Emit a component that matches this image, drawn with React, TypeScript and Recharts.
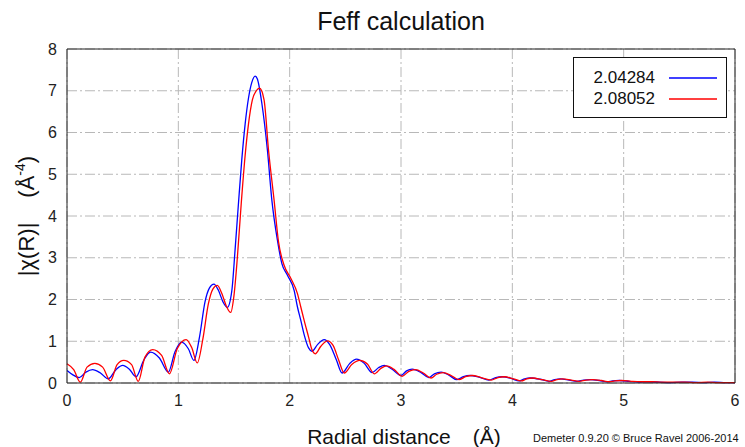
import React from 'react';
import { CartesianGrid, Label, Legend, Line, LineChart, XAxis, YAxis } from 'recharts';

const FONT = '"Liberation Sans", Arial, Helvetica, sans-serif';

const xTicks = [0, 1, 2, 3, 4, 5, 6];
const yTicks = [0, 1, 2, 3, 4, 5, 6, 7, 8];

const seriesNames = ['2.04284', '2.08052'];
const seriesColors = ['#0000ff', '#ff0000'];

// |chi(R)| for the first path: [R, magnitude]
const path1: [number, number][] = [
  [0.0, 0.3], [0.05, 0.2], [0.11, 0.13], [0.17, 0.26], [0.23, 0.32], [0.3, 0.24], [0.37, 0.1],
  [0.44, 0.32], [0.5, 0.42], [0.56, 0.33], [0.62, 0.15], [0.69, 0.55], [0.75, 0.74], [0.83, 0.6],
  [0.91, 0.26], [0.97, 0.75], [1.03, 0.98], [1.09, 0.82], [1.14, 0.54], [1.19, 1.1], [1.24, 1.95],
  [1.28, 2.28], [1.32, 2.37], [1.36, 2.22], [1.4, 1.95], [1.44, 1.81], [1.48, 2.2], [1.51, 3.2],
  [1.54, 4.3], [1.57, 5.35], [1.6, 6.2], [1.63, 6.82], [1.66, 7.2], [1.69, 7.35], [1.71, 7.28],
  [1.75, 6.7], [1.8, 5.58], [1.84, 4.38], [1.89, 3.42], [1.93, 2.86], [1.98, 2.58], [2.04, 2.22],
  [2.07, 1.82], [2.1, 1.5], [2.13, 1.16], [2.17, 0.84], [2.2, 0.76], [2.25, 0.92], [2.31, 1.04],
  [2.36, 0.92], [2.42, 0.55], [2.47, 0.24], [2.54, 0.47], [2.6, 0.57], [2.67, 0.47], [2.74, 0.25],
  [2.8, 0.37], [2.85, 0.42], [2.92, 0.33], [3.0, 0.18], [3.05, 0.29], [3.1, 0.33], [3.18, 0.25],
  [3.25, 0.13], [3.3, 0.22], [3.36, 0.26], [3.43, 0.19], [3.5, 0.08], [3.56, 0.15], [3.62, 0.18],
  [3.7, 0.14], [3.79, 0.07], [3.85, 0.13], [3.91, 0.15], [3.99, 0.11], [4.06, 0.05], [4.11, 0.1],
  [4.16, 0.12], [4.25, 0.09], [4.33, 0.04], [4.38, 0.08], [4.43, 0.1], [4.51, 0.07], [4.58, 0.04],
  [4.64, 0.07], [4.7, 0.08], [4.78, 0.06], [4.85, 0.03], [4.9, 0.05], [4.96, 0.06], [5.05, 0.04],
  [5.13, 0.02], [5.22, 0.03], [5.32, 0.02], [5.42, 0.01], [5.52, 0.02], [5.62, 0.02], [5.72, 0.01],
  [5.82, 0.02], [5.92, 0.01], [6.0, 0.01],
];

// |chi(R)| for the second path: [R, magnitude]
const path2: [number, number][] = [
  [0.0, 0.46], [0.06, 0.32], [0.12, 0.02], [0.18, 0.38], [0.25, 0.47], [0.32, 0.38], [0.39, 0.05],
  [0.45, 0.44], [0.51, 0.54], [0.58, 0.44], [0.64, 0.04], [0.7, 0.62], [0.77, 0.8], [0.85, 0.66],
  [0.92, 0.22], [0.99, 0.82], [1.07, 1.04], [1.12, 0.85], [1.17, 0.48], [1.22, 1.05], [1.27, 1.9],
  [1.31, 2.25], [1.35, 2.34], [1.39, 2.15], [1.43, 1.85], [1.47, 1.69], [1.5, 2.1], [1.53, 3.0],
  [1.565, 4.3], [1.6, 5.45], [1.63, 6.2], [1.665, 6.78], [1.7, 7.0], [1.73, 7.06], [1.77, 6.78],
  [1.81, 5.58], [1.86, 4.38], [1.9, 3.38], [1.95, 2.82], [2.01, 2.51], [2.07, 2.14], [2.1, 1.82],
  [2.13, 1.5], [2.17, 1.1], [2.2, 0.8], [2.23, 0.7], [2.28, 0.88], [2.34, 1.01], [2.39, 0.9],
  [2.44, 0.55], [2.49, 0.24], [2.56, 0.45], [2.63, 0.54], [2.7, 0.45], [2.76, 0.22], [2.82, 0.35],
  [2.87, 0.41], [2.94, 0.32], [3.01, 0.16], [3.07, 0.28], [3.13, 0.32], [3.2, 0.24], [3.27, 0.12],
  [3.32, 0.21], [3.38, 0.25], [3.45, 0.18], [3.52, 0.08], [3.58, 0.15], [3.64, 0.18], [3.72, 0.13],
  [3.81, 0.07], [3.87, 0.13], [3.93, 0.15], [4.01, 0.1], [4.08, 0.05], [4.13, 0.1], [4.18, 0.12],
  [4.27, 0.08], [4.35, 0.04], [4.4, 0.08], [4.45, 0.1], [4.53, 0.07], [4.6, 0.04], [4.66, 0.07],
  [4.72, 0.08], [4.8, 0.06], [4.87, 0.03], [4.92, 0.05], [4.98, 0.06], [5.07, 0.04], [5.15, 0.03],
  [5.25, 0.03], [5.35, 0.02], [5.45, 0.02], [5.55, 0.02], [5.65, 0.01], [5.75, 0.02], [5.85, 0.01],
  [6.0, 0.01],
];

const toRows = (pts: [number, number][]) => pts.map(([r, v]) => ({ r, v }));

const YLabel = (props: any) => {
  const { x, y, height } = props.viewBox;
  const cx = x + 34;
  const cy = y + height / 2;
  return (
    <text
      x={cx}
      y={cy}
      transform={`rotate(-90, ${cx}, ${cy})`}
      textAnchor="middle"
      fontFamily={FONT}
      fontSize={22}
      fill="#111"
    >
      <tspan>|χ(R)|</tspan>
      <tspan dx={25}>(Å</tspan>
      <tspan fontSize={14} dy={-9}>-4</tspan>
      <tspan dy={9}>)</tspan>
    </text>
  );
};

const XLabel = (props: any) => {
  const { x, y, width } = props.viewBox;
  return (
    <text x={x + width / 2 + 3} y={y + 61} textAnchor="middle" fontFamily={FONT} fontSize={21} fill="#111">
      <tspan>Radial distance</tspan>
      <tspan dx={22}>(Å)</tspan>
    </text>
  );
};

const BoxLegend = ({ payload }: any) => (
  <div
    style={{
      width: 154,
      height: 61,
      boxSizing: 'border-box',
      border: '1px solid #111',
      background: '#fff',
      paddingTop: 9,
      fontFamily: FONT,
    }}
  >
    {(payload || []).map((p: any) => (
      <div key={p.value} style={{ display: 'flex', alignItems: 'center', height: 21 }}>
        <span style={{ width: 81, textAlign: 'right', fontSize: 17, color: '#111' }}>{p.value}</span>
        <svg width={48} height={4} style={{ marginLeft: 14 }}>
          <line x1={0} x2={48} y1={2} y2={2} stroke={p.color} strokeWidth={1.3} />
        </svg>
      </div>
    ))}
  </div>
);

export default function App() {
  const tickStyle = { fontSize: 16, fill: '#222', fontFamily: FONT };
  return (
    <div style={{ position: 'absolute', left: 0, top: 0, width: 745, height: 447, background: '#fff' }}>
      <div
        style={{
          position: 'absolute',
          left: 0,
          width: 802,
          top: 7,
          textAlign: 'center',
          fontFamily: FONT,
          fontSize: 25,
          lineHeight: '28px',
          color: '#111',
        }}
      >
        Feff calculation
      </div>
      <LineChart width={745} height={447} margin={{ top: 49, right: 10, bottom: 0, left: 0 }}>
        <CartesianGrid stroke="#b8b8b8" strokeDasharray="10 3 2 3" />
        <XAxis
          dataKey="r"
          type="number"
          domain={[0, 6]}
          ticks={xTicks}
          height={64}
          tickLine={false}
          tickSize={0}
          tickMargin={12}
          tick={tickStyle}
          axisLine={{ stroke: '#222' }}
        >
          <Label content={XLabel} />
        </XAxis>
        {/* gnuplot-style inward ticks on all four sides */}
        <XAxis
          xAxisId="inner-bottom"
          orientation="bottom"
          mirror
          type="number"
          domain={[0, 6]}
          allowDataOverflow
          ticks={xTicks}
          height={10}
          tick={false}
          tickSize={8}
          axisLine={false}
          tickLine={{ stroke: '#222' }}
        />
        <XAxis
          xAxisId="top"
          orientation="top"
          mirror
          type="number"
          domain={[0, 6]}
          allowDataOverflow
          ticks={xTicks}
          height={10}
          tick={false}
          tickSize={8}
          axisLine={{ stroke: '#222' }}
          tickLine={{ stroke: '#222' }}
        />
        <YAxis
          type="number"
          domain={[0, 8]}
          ticks={yTicks}
          width={67}
          tickLine={false}
          tickSize={0}
          tickMargin={10}
          tick={tickStyle}
          axisLine={{ stroke: '#222' }}
        >
          <Label content={YLabel} />
        </YAxis>
        <YAxis
          yAxisId="inner-left"
          orientation="left"
          mirror
          type="number"
          domain={[0, 8]}
          allowDataOverflow
          ticks={yTicks}
          width={10}
          tick={false}
          tickSize={8}
          axisLine={false}
          tickLine={{ stroke: '#222' }}
        />
        <YAxis
          yAxisId="right"
          orientation="right"
          mirror
          type="number"
          domain={[0, 8]}
          allowDataOverflow
          ticks={yTicks}
          width={10}
          tick={false}
          tickSize={8}
          axisLine={{ stroke: '#222' }}
          tickLine={{ stroke: '#222' }}
        />
        <Legend
          layout="vertical"
          align="center"
          verticalAlign="middle"
          content={BoxLegend}
          wrapperStyle={{ left: 573, top: 57, width: 154, height: 61 }}
        />
        <Line
          data={toRows(path1)}
          dataKey="v"
          name={seriesNames[0]}
          type="monotone"
          stroke={seriesColors[0]}
          strokeWidth={1.3}
          dot={false}
          isAnimationActive={false}
        />
        <Line
          data={toRows(path2)}
          dataKey="v"
          name={seriesNames[1]}
          type="monotone"
          stroke={seriesColors[1]}
          strokeWidth={1.3}
          dot={false}
          isAnimationActive={false}
        />
      </LineChart>
      <div
        style={{
          position: 'absolute',
          left: 533,
          top: 431,
          fontFamily: FONT,
          fontSize: 11,
          lineHeight: '14px',
          color: '#111',
          whiteSpace: 'nowrap',
        }}
      >
        Demeter 0.9.20 © Bruce Ravel 2006-2014
      </div>
    </div>
  );
}
